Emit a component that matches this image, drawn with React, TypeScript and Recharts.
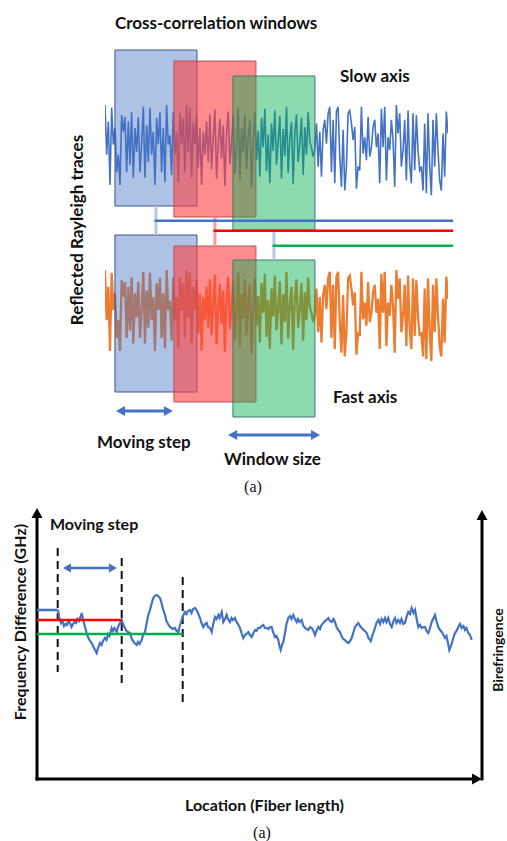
import React from 'react';
import { ComposedChart, Line, XAxis, YAxis, ReferenceArea, ReferenceLine } from 'recharts';

// ---------- Top panel: reflected Rayleigh trace amplitude (0..100) ----------
// The slow- and fast-axis traces in the figure show the same waveform.
const SLOW_AXIS_TRACE = [
  100, 46, 82, 13, 97, 57, 75, 27, 46, 13, 89, 71, 87, 27, 82, 35, 92, 21, 75, 49,
  87, 27, 57, 98, 21, 78, 38, 97, 46, 71, 13, 86, 57, 92, 27, 75, 16, 100, 57, 67,
  24, 92, 46, 71, 16, 92, 57, 86, 27, 100, 49, 97, 21, 82, 57, 89, 32, 75, 13, 71,
  46, 82, 38,
  90, 30, 64, 95, 20, 58, 85, 42, 78, 12, 70, 93, 36, 60, 88, 25, 55, 97, 18, 75,
  48, 90, 30, 66, 84, 10, 62, 92, 40, 72, 22, 86, 54, 96, 28, 68, 15, 80, 50, 94,
  35, 60, 88, 20, 74, 44, 98, 26, 64, 82, 14, 70, 90, 38, 58, 86, 24, 76, 46, 92,
  60,
  54, 44, 51, 80, 33, 71, 22, 73, 84, 58, 91, 98, 27, 84, 15, 93, 98, 44, 11, 73,
  7, 33, 91, 94, 80, 62, 76, 9, 33, 29, 98, 47, 65, 40, 87, 44, 54, 76, 84, 54,
  69, 15, 96, 54, 98, 18, 65, 51, 84, 62, 11, 100, 69, 91, 33, 51, 84, 18, 94, 36,
  15, 91, 29, 89, 51, 29, 33, 7, 80, 4, 91, 33, 2, 84, 33, 91, 51, 18, 7, 69,
  22, 93, 69,
];
const FAST_AXIS_TRACE = SLOW_AXIS_TRACE.slice();

// cross-correlation windows, in % of trace length
const WINDOW_STARTS = [2.9, 20.1, 37.3];
const WINDOW_SIZE = 23.9;
const MOVING_STEP_ARROW = [3.2, 19.8];
const WINDOW_SIZE_ARROW = [35.9, 62.7];
const RESULT_LINE_END = 101.5;

// ---------- Bottom panel: frequency difference vs location ----------
const FD_LOCATION = [
  21, 22.5, 24, 25.5, 27, 28.5, 30, 31.5, 33, 34.5, 36, 37.5, 39, 40.5, 42, 43.5, 44.7, 46, 48, 49.7,
  51, 53, 54.7, 56, 57.5, 59.7, 61, 63, 64.5, 66, 68, 69.5, 71, 72.5, 74.7, 76, 77.5, 79.7, 81, 83,
  84.7, 86, 88, 89.5, 91, 93, 94.5, 96, 97.5, 99.7, 101, 102.5, 104.7, 106, 108, 109.5, 111, 113, 114.5, 116,
  117.5, 119.7, 121, 123, 124.5, 126, 128, 129.5, 131, 133, 134.5, 136, 138, 139.5, 141.3, 142.5, 144.7, 146, 148, 149.5,
  151, 153, 154.5, 156, 158, 159.7, 161, 163, 164.5, 166.3, 168, 169.7, 171, 173, 174.7, 176, 178, 179.5, 181.3, 182.5,
  184.7, 186.3, 188, 189.7, 191, 193, 194.5, 196, 198, 199.5, 201, 203, 204.5, 206.3, 208, 209.5, 211.3, 213, 214.7, 216.5,
  218, 219.5, 221, 223, 224.5, 226.3, 228, 229.7, 231.5, 233, 234.7, 236, 238, 239.5, 241.3, 242.5, 243.7, 245, 246.3, 248,
  249.5, 251.3, 253, 254.5, 256.3, 257.5, 259.7, 261, 262.5, 264.7, 266, 268, 269.5, 271.3, 273, 274.7, 276.5, 278, 279.5, 281.3,
  283, 284.5, 286.3, 288, 289.5, 291.3, 293, 294.7, 296.5, 298, 299.5, 301.3, 303, 304.5, 306.3, 308, 309.5, 311.3, 313, 314.7,
  316.5, 318, 319.5, 321.3, 323, 324.7, 326.5, 328, 329.7, 331.5, 333.7, 335.5, 338, 339.5, 341.3, 343, 344.5, 346.3, 348, 349.5,
  351.3, 353, 354.7, 356.5, 358, 359.5, 361.3, 363, 364.5, 366.3, 368, 369.5, 371.3, 373, 374.7, 376.5, 378, 379.5, 381.3, 383,
  384.7, 386.5, 388, 389.5, 391.3, 393, 394.7, 396.5, 398, 399.5, 401.3, 403, 404.7, 406, 408, 409.5, 411, 412.3, 414, 416.3,
  418, 419.5, 421.3, 423, 424.7, 426.5, 428, 429.5, 431.3, 433, 434.7,
];
const FD_VALUE = [
  169, 160, 156, 158, 153, 155, 154, 158, 156, 152, 155, 157, 156, 160, 158, 162, 166, 160, 152, 146,
  142, 138, 136, 133, 130, 126, 131, 136, 134, 138, 141, 139, 145, 143, 151, 148, 151, 147, 152, 156,
  159, 155, 151, 148, 147, 146, 141, 138, 136, 134, 137, 135, 139, 144, 147, 155, 163, 169, 175, 180,
  183, 184, 183, 181, 176, 170, 164, 158, 155, 152, 151, 150, 151, 148, 147, 152, 159, 163, 167, 165,
  168, 169, 166, 170, 171, 169, 166, 161, 156, 152, 155, 156, 152, 151, 147, 154, 162, 160, 164, 161,
  167, 157, 160, 164, 160, 157, 161, 159, 161, 157, 155, 151, 146, 141, 144, 145, 147, 144, 142, 146,
  149, 148, 151, 151, 153, 154, 151, 151, 150, 152, 152, 147, 142, 143, 139, 133, 129, 134, 137, 146,
  155, 161, 163, 160, 164, 161, 157, 160, 157, 159, 154, 151, 150, 149, 152, 151, 148, 144, 148, 152,
  150, 154, 156, 158, 159, 161, 158, 157, 160, 157, 152, 149, 147, 143, 140, 139, 137, 136, 138, 141,
  147, 152, 154, 156, 153, 151, 149, 148, 146, 141, 138, 144, 151, 156, 159, 155, 160, 157, 161, 157,
  161, 155, 152, 158, 161, 156, 159, 156, 160, 155, 156, 162, 167, 165, 171, 166, 169, 161, 152, 154,
  151, 152, 152, 148, 146, 151, 157, 161, 164, 158, 152, 149, 147, 145, 141, 143, 136, 129, 133, 141,
  146, 148, 152, 155, 151, 153, 149, 151, 146, 144, 139,
];

// window results (start of each window, level of each window result)
const FD_WINDOW_STARTS = [20.7, 84.7, 145.7];
const FD_WINDOW_LEVELS = [169, 159, 145];
const FD_DASH_TOP = [231, 221, 202];
const FD_DASH_BOTTOM = [107, 94, 76];
const FD_STEP_ARROW = [26, 80];

const slowData = SLOW_AXIS_TRACE.map((v, i) => ({ x: (i / (SLOW_AXIS_TRACE.length - 1)) * 100, v }));
const fastData = FAST_AXIS_TRACE.map((v, i) => ({ x: (i / (FAST_AXIS_TRACE.length - 1)) * 100, v }));
const fdData = FD_LOCATION.map((x, i) => ({ x, v: FD_VALUE[i] }));

// ---------- layout / styles ----------
const TOP_H = 490;
const SLOW_BAND = [105, 197];
const FAST_BAND = [270, 363];
const bandDomain = (band: number[]) => {
  const R = (100 * TOP_H) / (band[1] - band[0]);
  const hi = (band[1] * R) / TOP_H;
  return [hi - R, hi];
};
const SLOW_DOMAIN = bandDomain(SLOW_BAND);
const FAST_DOMAIN = bandDomain(FAST_BAND);
// diagram y (px from top of panel) expressed in slow-axis units
const yAt = (py: number) => ((SLOW_BAND[1] - py) * 100) / (SLOW_BAND[1] - SLOW_BAND[0]);

const BLUE = '#4472C4';
const ORANGE = '#ED7D31';
const WIN_FILL = ['#4472C4', '#FF3F3F', '#00B050'];
const WIN_FILL_OPACITY = [0.43, 0.6, 0.45];
const WIN_STROKE = ['#3A5590', '#B8505A', '#3E7A66'];
const CONNECTOR_COLORS = ['#B4C7E7', '#FF9999', '#B4C7E7'];
const RESULT_COLORS = ['#4472C4', '#FF0000', '#00B050'];
const UPPER_TOP = [50, 61, 76];
const UPPER_BOTTOM = [206, 217, 230];
const LOWER_TOP = [235, 246, 260];
const LOWER_BOTTOM = [392, 402, 417];
const RESULT_Y = [220.7, 230.7, 245.7];

const makeArrow = (color: string, width: number, head: number, startHead: boolean, endHead: boolean) =>
  (p: any) => {
    const { x1, y1, x2, y2 } = p;
    const dx = x2 - x1, dy = y2 - y1;
    const len = Math.hypot(dx, dy) || 1;
    const ux = dx / len, uy = dy / len;
    const nx = -uy, ny = ux;
    const hl = head, hw = head * 0.55;
    const sx = startHead ? x1 + ux * hl * 0.8 : x1;
    const sy = startHead ? y1 + uy * hl * 0.8 : y1;
    const ex = endHead ? x2 - ux * hl * 0.8 : x2;
    const ey = endHead ? y2 - uy * hl * 0.8 : y2;
    const tri = (tx: number, ty: number, dir: number) => {
      const bx = tx - dir * ux * hl, by = ty - dir * uy * hl;
      return `${tx},${ty} ${bx + nx * hw},${by + ny * hw} ${bx - nx * hw},${by - ny * hw}`;
    };
    return (
      <g>
        <line x1={sx} y1={sy} x2={ex} y2={ey} stroke={color} strokeWidth={width} strokeLinecap="square" />
        {startHead && <polygon points={tri(x1, y1, -1)} fill={color} />}
        {endHead && <polygon points={tri(x2, y2, 1)} fill={color} />}
      </g>
    );
  };

const txt: React.CSSProperties = {
  position: 'absolute',
  fontFamily: 'Lato, "Open Sans", sans-serif',
  fontWeight: 700,
  fontSize: 17,
  lineHeight: '20px',
  whiteSpace: 'nowrap',
  color: '#111',
};
const rot = (cx: number, cy: number, size: number): React.CSSProperties => ({
  ...txt,
  fontSize: size,
  lineHeight: `${size + 1}px`,
  left: cx,
  top: cy,
  transform: 'translate(-50%, -50%) rotate(-90deg)',
});
const cap: React.CSSProperties = {
  position: 'absolute',
  fontFamily: '"Liberation Serif", "Times New Roman", serif',
  fontSize: 16,
  lineHeight: '18px',
  transform: 'translate(-50%, -50%)',
  color: '#111',
};

export default function App() {
  return (
    <div style={{ position: 'absolute', left: 0, top: 0, width: 507, height: 841, background: '#fff', overflow: 'hidden' }}>
      <div style={{ position: 'absolute', left: 0, top: 0 }}>
        <ComposedChart width={507} height={TOP_H} margin={{ top: 0, right: 59, bottom: 0, left: 105 }}>
          <XAxis type="number" dataKey="x" domain={[0, 100]} allowDataOverflow hide />
          <YAxis yAxisId="slow" type="number" domain={SLOW_DOMAIN} allowDataOverflow hide />
          <YAxis yAxisId="fast" type="number" domain={FAST_DOMAIN} allowDataOverflow hide />
          <Line yAxisId="slow" data={slowData} dataKey="v" stroke={BLUE} strokeWidth={1.6} dot={false} isAnimationActive={false} />
          <Line yAxisId="fast" data={fastData} dataKey="v" stroke={ORANGE} strokeWidth={2.3} dot={false} isAnimationActive={false} />
          {WINDOW_STARTS.map((s, i) => (
            <ReferenceArea key={'u' + i} yAxisId="slow" x1={s} x2={s + WINDOW_SIZE} y1={yAt(UPPER_BOTTOM[i])} y2={yAt(UPPER_TOP[i])}
              fill={WIN_FILL[i]} fillOpacity={WIN_FILL_OPACITY[i]} stroke={WIN_STROKE[i]} strokeWidth={1} ifOverflow="visible" zIndex={450} />
          ))}
          {WINDOW_STARTS.map((s, i) => (
            <ReferenceArea key={'l' + i} yAxisId="slow" x1={s} x2={s + WINDOW_SIZE} y1={yAt(LOWER_BOTTOM[i])} y2={yAt(LOWER_TOP[i])}
              fill={WIN_FILL[i]} fillOpacity={WIN_FILL_OPACITY[i]} stroke={WIN_STROKE[i]} strokeWidth={1} ifOverflow="visible" zIndex={450} />
          ))}
          {WINDOW_STARTS.map((s, i) => (
            <ReferenceLine key={'c' + i} yAxisId="slow"
              segment={[{ x: s + WINDOW_SIZE / 2, y: yAt(UPPER_BOTTOM[i]) }, { x: s + WINDOW_SIZE / 2, y: yAt(LOWER_TOP[i]) }]}
              stroke={CONNECTOR_COLORS[i]} strokeWidth={3} ifOverflow="visible" zIndex={460} />
          ))}
          {WINDOW_STARTS.map((s, i) => (
            <ReferenceLine key={'r' + i} yAxisId="slow"
              segment={[{ x: s + WINDOW_SIZE / 2 - 0.4, y: yAt(RESULT_Y[i]) }, { x: RESULT_LINE_END, y: yAt(RESULT_Y[i]) }]}
              stroke={RESULT_COLORS[i]} strokeWidth={2.6} ifOverflow="visible" zIndex={470} />
          ))}
          <ReferenceLine yAxisId="slow" segment={[{ x: MOVING_STEP_ARROW[0], y: yAt(411) }, { x: MOVING_STEP_ARROW[1], y: yAt(411) }]}
            ifOverflow="visible" zIndex={470} shape={makeArrow(BLUE, 3, 9, true, true)} />
          <ReferenceLine yAxisId="slow" segment={[{ x: WINDOW_SIZE_ARROW[0], y: yAt(435) }, { x: WINDOW_SIZE_ARROW[1], y: yAt(435) }]}
            ifOverflow="visible" zIndex={470} shape={makeArrow(BLUE, 3, 9, true, true)} />
        </ComposedChart>
      </div>

      <div style={{ ...txt, left: 115, top: 13 }}>Cross-correlation windows</div>
      <div style={{ ...txt, left: 340, top: 66 }}>Slow axis</div>
      <div style={{ ...txt, left: 333, top: 387 }}>Fast axis</div>
      <div style={{ ...txt, left: 97, top: 432 }}>Moving step</div>
      <div style={{ ...txt, left: 224, top: 449 }}>Window size</div>
      <div style={rot(77, 230, 17)}>Reflected Rayleigh traces</div>
      <div style={{ ...cap, left: 253, top: 487 }}>(a)</div>

      {/* bottom panel */}
      <div style={{ position: 'absolute', left: 0, top: 490 }}>
        <ComposedChart width={507} height={351} data={fdData} margin={{ top: 18, right: 25, bottom: 62, left: 37 }}>
          <XAxis type="number" dataKey="x" domain={[0, 445]} allowDataOverflow hide />
          <YAxis type="number" domain={[0, 271]} allowDataOverflow hide />
          <ReferenceLine segment={[{ x: 0, y: 0 }, { x: 0, y: 271 }]} ifOverflow="visible" shape={makeArrow('#000', 3, 10, false, true)} />
          <ReferenceLine segment={[{ x: 445, y: 0 }, { x: 445, y: 269 }]} ifOverflow="visible" shape={makeArrow('#000', 3, 10, false, true)} />
          <ReferenceLine segment={[{ x: 0, y: 0 }, { x: 445, y: 0 }]} ifOverflow="visible" shape={makeArrow('#000', 3, 10, false, true)} />
          {FD_WINDOW_STARTS.map((s, i) => (
            <ReferenceLine key={'d' + i} segment={[{ x: s, y: FD_DASH_TOP[i] }, { x: s, y: FD_DASH_BOTTOM[i] }]}
              stroke="#111" strokeWidth={2} strokeDasharray="8 5" ifOverflow="visible" />
          ))}
          <Line dataKey="v" stroke={BLUE} strokeWidth={2.2} dot={false} isAnimationActive={false} />
          {FD_WINDOW_STARTS.map((s, i) => (
            <ReferenceLine key={'h' + i} segment={[{ x: 0, y: FD_WINDOW_LEVELS[i] }, { x: s, y: FD_WINDOW_LEVELS[i] }]}
              stroke={RESULT_COLORS[i]} strokeWidth={2.6} ifOverflow="visible" zIndex={470} />
          ))}
          <ReferenceLine segment={[{ x: FD_STEP_ARROW[0], y: 211 }, { x: FD_STEP_ARROW[1], y: 211 }]} ifOverflow="visible"
            shape={makeArrow(BLUE, 2.6, 8, true, true)} />
        </ComposedChart>
      </div>

      <div style={{ ...txt, fontSize: 16, left: 50, top: 514 }}>Moving step</div>
      <div style={rot(19, 622, 16)}>Frequency Difference (GHz)</div>
      <div style={rot(497, 650, 14)}>Birefringence</div>
      <div style={{ ...txt, fontSize: 16, left: 185, top: 795 }}>Location (Fiber length)</div>
      <div style={{ ...cap, left: 262, top: 833 }}>(a)</div>
    </div>
  );
}
